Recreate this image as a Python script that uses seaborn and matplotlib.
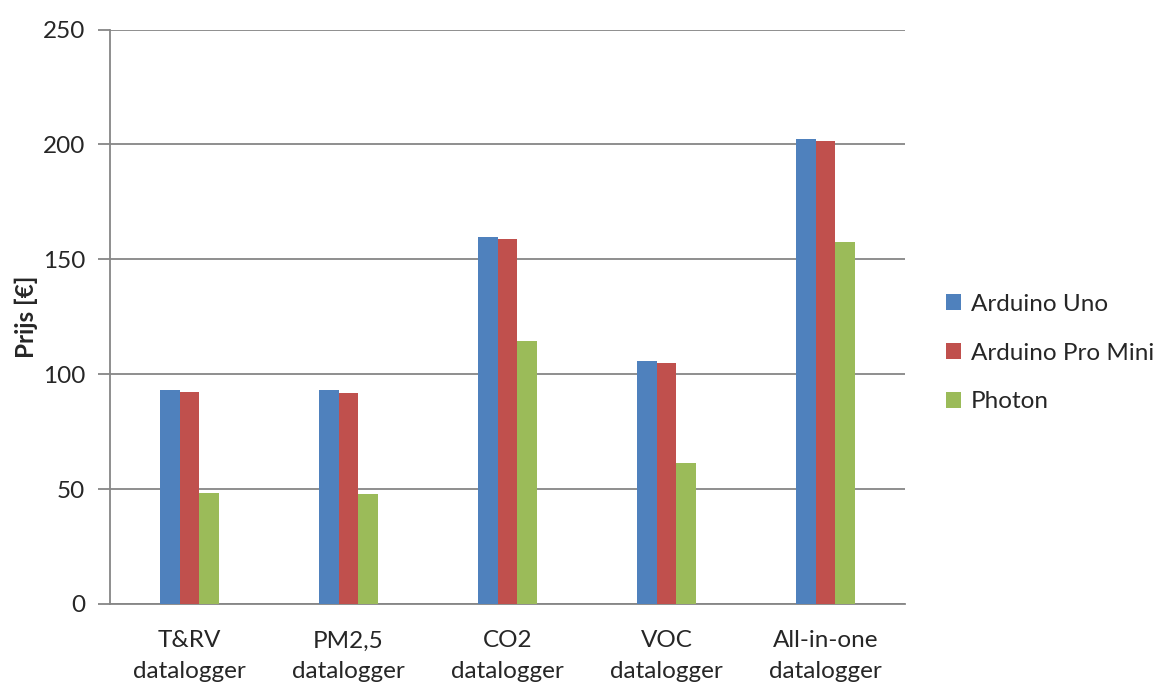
import matplotlib
matplotlib.use("Agg")
import matplotlib.pyplot as plt
import seaborn as sns
import pandas as pd
from matplotlib.patches import Patch

# Prijzen per datalogger-type en microcontroller
categories = ["T&RV\ndatalogger", "PM2,5\ndatalogger", "CO2\ndatalogger",
              "VOC\ndatalogger", "All-in-one\ndatalogger"]
series = ["Arduino Uno", "Arduino Pro Mini", "Photon"]
uno = [93.0, 93.0, 159.6, 105.9, 202.5]
pro_mini = [92.3, 92.0, 158.7, 105.0, 201.6]
photon = [48.2, 48.0, 114.6, 61.2, 157.7]
yticks = [0, 50, 100, 150, 200, 250]

colors = ["#4F81BD", "#C0504D", "#9BBB59"]
grid_col = "#868686"
fs = 17.5

df = pd.DataFrame({
    "categorie": categories * 3,
    "serie": [s for s in series for _ in categories],
    "prijs": uno + pro_mini + photon,
})

sns.set_theme(style="white")
plt.rcParams["font.family"] = ["Lato", "DejaVu Sans"]

fig = plt.figure(figsize=(11.56, 6.84), dpi=100)
ax = fig.add_axes([110 / 1156, 1 - 604 / 684, 795 / 1156, 574.5 / 684])

sns.barplot(data=df, x="categorie", y="prijs", hue="serie", order=categories,
            hue_order=series, palette=colors, width=0.372, saturation=1,
            edgecolor="none", linewidth=0, ax=ax, legend=False, zorder=3)

ax.set_ylim(0, 250)
ax.set_xlim(-0.5, len(categories) - 0.5)
ax.set_yticks(yticks)
ax.set_yticklabels([str(t) for t in yticks], fontsize=fs)
ax.yaxis.grid(True, color=grid_col, linewidth=1.3, zorder=0)
ax.set_axisbelow(True)

# Category labels centred, tick marks at the category boundaries
ax.set_xticks(range(len(categories)))
ax.set_xticklabels(categories, fontsize=fs, linespacing=1.55)
ax.tick_params(axis="x", length=0, pad=19)
ax.set_xticks([i - 0.5 for i in range(len(categories) + 1)], minor=True)
ax.tick_params(axis="x", which="minor", direction="out", length=8,
               color=grid_col, width=1.3)
ax.tick_params(axis="y", direction="out", length=9, color=grid_col,
               width=1.3, pad=9, left=True)

for side in ["top", "right"]:
    ax.spines[side].set_visible(False)
for side in ["left", "bottom"]:
    ax.spines[side].set_color(grid_col)
    ax.spines[side].set_linewidth(1.3)

ax.set_xlabel("")
ax.set_ylabel("Prijs [€]", fontsize=fs, fontweight="bold")
ax.yaxis.set_label_coords(-72 / 795, 0.5)

handles = [Patch(facecolor=c, edgecolor="none") for c in colors]
fig.legend(handles, series, loc="center left", bbox_to_anchor=(946 / 1156, 1 - 353 / 684),
           frameon=False, fontsize=fs, handlelength=0.62, handleheight=0.62,
           handletextpad=0.4, labelspacing=1.15, borderpad=0, borderaxespad=0)

fig.savefig("out.png", dpi=100)
